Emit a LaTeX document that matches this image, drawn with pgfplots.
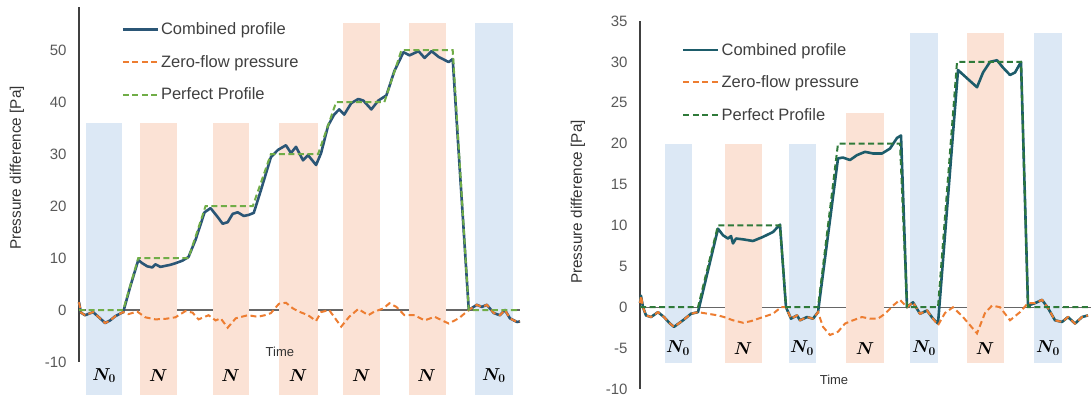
\documentclass[border=0pt]{standalone}
\usepackage{pgfplots}
\pgfplotsset{compat=1.18}
\usepackage{pgfplotstable}
\usepackage{amsmath}
\usepackage{fontspec}
\setmainfont{Liberation Sans}
\definecolor{cblue}{HTML}{2B5676}
\definecolor{cteal}{HTML}{1D5C6A}
\definecolor{corange}{HTML}{ED7D31}
\definecolor{cgreenL}{HTML}{70AD47}
\definecolor{cgreenD}{HTML}{2F7A3A}
\definecolor{bblue}{HTML}{DCE8F5}
\definecolor{borange}{HTML}{FBE2D5}
\definecolor{ticktext}{HTML}{595959}
\definecolor{legtext}{HTML}{404040}
\pgfplotsset{legend image code/.code={\draw[#1] (0pt,0pt) -- (35pt,0pt);}}

\pgfplotstableread{
t y
79 1.5
81 -0.5
85 -1.0
93 -0.4
100 -1.6
105 -2.5
110 -2.0
115 -1.2
123 -0.4
130 4.5
138 9.6
142 9.0
147 8.4
152 8.2
155 8.8
160 8.3
165 8.5
170 8.7
175 9.0
182 9.5
188 10.2
195 13.5
204 18.8
210 19.6
217 17.9
222 16.6
227 16.9
232 18.5
237 18.8
243 18.1
248 18.3
253 18.7
260 23.0
270 29.4
277 30.8
285 31.7
290 30.2
295 31.4
302 28.8
307 29.8
315 27.9
320 30.2
327 35.5
333 37.6
338 38.6
343 37.6
350 39.8
357 40.6
362 40.3
370 38.6
377 40.3
385 41.3
393 46.0
402 49.6
408 49.0
417 49.8
423 48.5
430 49.8
437 48.7
447 47.7
451 48.3
467 0
475 1.0
480 0.6
485 1.0
492 -0.6
498 -1.0
503 0
508 -1.6
515 -2.3
518 -2.2
}\tabLcomb
\pgfplotstableread{
t y
79 1.5
81 -0.5
85 -1.0
93 -0.4
100 -1.6
105 -2.5
110 -2.0
115 -1.2
123 -0.4
128 -0.8
137 -0.3
145 -1.4
155 -1.8
165 -1.7
175 -1.4
185 -0.2
192 -0.5
198 -1.8
208 -1.0
215 -2.0
220 -1.6
227 -3.4
235 -1.6
247 -1.0
257 -1.3
264 -1.0
270 -0.6
278 1.2
285 1.4
292 0.3
298 -0.3
307 -1.0
315 -2.1
320 -0.4
328 0
340 -3.2
348 -1.3
357 0.2
367 -1.0
373 -0.3
382 0.3
388 1.3
395 0.6
403 -1.0
413 -1.0
423 -2.0
433 -1.3
447 -2.6
457 -1.6
467 0
475 1.0
480 0.6
485 1.0
492 -0.6
498 -1.0
503 0
508 -1.6
515 -2.3
518 -2.2
}\tabLzero
\pgfplotstableread{
t y
79 0
123 0
138 10
188 10
205 20
252 20
270 30
317 30
335 40
383 40
400 50
451 50
467 0
518 0
}\tabLperf

\pgfplotstableread{
t y
640 0.5
641 1.4
643 0.0
646 -1.0
651 -1.2
658 -0.6
664 -1.2
670 -2.0
674 -2.4
683 -1.6
691 -0.8
698 -0.6
708 4.5
718 9.6
723 8.8
728 8.4
731 8.7
733 7.8
736 8.4
743 8.3
753 8.1
763 8.6
773 9.2
780 10.1
786 0
791 -1.4
797 -1.0
800 -1.6
807 -1.2
813 -1.4
818 -0.6
838 18.2
843 18.3
850 18.0
857 18.6
865 19.0
873 18.8
882 18.8
890 19.4
897 20.7
901 21.0
907 0
913 0.6
920 -0.8
927 -0.4
933 -1.4
938 -2.0
958 29.0
967 28.0
977 26.9
983 28.7
990 30.0
997 30.2
1003 29.3
1010 28.4
1015 28.7
1021 30.0
1028 0.2
1035 0.5
1042 0.9
1048 -0.1
1055 -1.6
1062 -1.8
1068 -1.2
1075 -2.0
1082 -1.2
1088 -1.0
}\tabRcomb
\pgfplotstableread{
t y
640 0.5
641 1.4
643 0.0
646 -1.0
651 -1.2
658 -0.6
664 -1.2
670 -2.0
674 -2.4
683 -1.6
691 -0.8
698 -0.6
708 -0.8
718 -1.0
724 -1.2
733 -1.6
743 -1.9
751 -1.7
763 -1.2
773 -0.8
781 0
786 0
791 -1.4
797 -1.0
800 -1.6
807 -1.2
813 -1.4
818 -0.6
823 -2.4
830 -3.4
838 -3.0
845 -2.0
853 -1.6
862 -1.2
870 -1.4
878 -1.4
885 -0.8
893 0.2
900 0.9
907 0
913 0.6
920 -0.8
927 -0.4
933 -1.4
938 -2.2
945 -0.7
953 0
963 -1.2
977 -3.2
985 -0.7
992 0.2
1000 0
1010 -1.6
1020 -0.6
1028 0.5
1035 0.5
1042 0.9
1048 -0.1
1055 -1.6
1062 -1.8
1068 -1.2
1075 -2.0
1082 -1.2
1088 -1.0
}\tabRzero
\pgfplotstableread{
t y
640 0
698 0
718 10
780 10
786 0
818 0
838 20
900 20
907 0
938 0
957 30
1021 30
1028 0
1091 0
}\tabRperf

\begin{document}
\begin{tikzpicture}
\path[use as bounding box] (0pt,0pt) rectangle (1091pt,401pt);
\begin{axis}[
  scale only axis, clip=false,
  axis x line*=middle, axis y line*=left,
  x axis line style={color=black!60, line width=1.1pt},
  y axis line style={color=black!75, line width=1.4pt},
  xtick=\empty, major tick length=0pt,
  /pgf/number format/assume math mode=true,
  yticklabel style={font=\fontsize{15}{18}\selectfont, color=ticktext, anchor=east, xshift=-9pt},
  legend cell align=left,
  legend style={draw=none, fill=none, font=\fontsize{16.5}{19}\selectfont, text=legtext,
                anchor=north west, row sep=15pt,
                at={(rel axis cs:0.089,0.967)}},
  at={(79pt,39pt)}, anchor=south west,
  width=441pt, height=355pt,
  xmin=79, xmax=518, ymin=-10, ymax=58.3,
  ytick={-10,0,10,20,30,40,50},
]
\addplot[draw=none, fill=bblue, forget plot]   coordinates {(86,-16.3) (122,-16.3) (122,36) (86,36)};
\addplot[draw=none, fill=borange, forget plot] coordinates {(140,-16.3) (177,-16.3) (177,36) (140,36)};
\addplot[draw=none, fill=borange, forget plot] coordinates {(212,-16.3) (248,-16.3) (248,36) (212,36)};
\addplot[draw=none, fill=borange, forget plot] coordinates {(278,-16.3) (317,-16.3) (317,36) (278,36)};
\addplot[draw=none, fill=borange, forget plot] coordinates {(342,-16.3) (379,-16.3) (379,55.2) (342,55.2)};
\addplot[draw=none, fill=borange, forget plot] coordinates {(407,-16.3) (444,-16.3) (444,55.2) (407,55.2)};
\addplot[draw=none, fill=bblue, forget plot]   coordinates {(473,-16.3) (511,-16.3) (511,55.2) (473,55.2)};
\addplot[line width=2.6pt, line join=round, color=cblue] table[x=t,y=y] {\tabLcomb};
\addlegendentry{Combined profile}
\addplot[line width=2pt, dash pattern=on 6pt off 3.5pt, color=corange] table[x=t,y=y] {\tabLzero};
\addlegendentry{Zero-flow pressure}
\addplot[line width=2pt, dash pattern=on 6pt off 3.5pt, color=cgreenL] table[x=t,y=y] {\tabLperf};
\addlegendentry{Perfect Profile}
\node[font=\fontsize{13}{15}\selectfont, text=black!80] at (axis cs:279,-8.1) {Time};
\node[font=\fontsize{18}{20}\selectfont] at (axis cs:104,-12.6) {$\boldsymbol{N_0}$};
\node[font=\fontsize{18}{20}\selectfont] at (axis cs:158,-12.6) {$\boldsymbol{N}$};
\node[font=\fontsize{18}{20}\selectfont] at (axis cs:230,-12.6) {$\boldsymbol{N}$};
\node[font=\fontsize{18}{20}\selectfont] at (axis cs:297,-12.6) {$\boldsymbol{N}$};
\node[font=\fontsize{18}{20}\selectfont] at (axis cs:360,-12.6) {$\boldsymbol{N}$};
\node[font=\fontsize{18}{20}\selectfont] at (axis cs:425,-12.6) {$\boldsymbol{N}$};
\node[font=\fontsize{18}{20}\selectfont] at (axis cs:492,-12.6) {$\boldsymbol{N_0}$};
\end{axis}
\node[rotate=90, font=\fontsize{15.3}{18}\selectfont, text=black!80] at (17pt,233pt) {Pressure difference [Pa]};

\begin{axis}[
  scale only axis, clip=false,
  axis x line*=middle, axis y line*=left,
  x axis line style={color=black!60, line width=1.1pt},
  y axis line style={color=black!75, line width=1.4pt},
  xtick=\empty, major tick length=0pt,
  /pgf/number format/assume math mode=true,
  yticklabel style={font=\fontsize{15}{18}\selectfont, color=ticktext, anchor=east, xshift=-9pt},
  legend cell align=left,
  legend style={draw=none, fill=none, font=\fontsize{16.5}{19}\selectfont, text=legtext,
                anchor=north west, row sep=15pt,
                at={(rel axis cs:0.086,0.951)}},
  at={(640pt,12pt)}, anchor=south west,
  width=451pt, height=368pt,
  xmin=640, xmax=1091, ymin=-10, ymax=35,
  ytick={-10,-5,0,5,10,15,20,25,30,35},
]
\addplot[draw=none, fill=bblue, forget plot]   coordinates {(665,-6.8) (692,-6.8) (692,20) (665,20)};
\addplot[draw=none, fill=borange, forget plot] coordinates {(725,-6.8) (762,-6.8) (762,20) (725,20)};
\addplot[draw=none, fill=bblue, forget plot]   coordinates {(789,-6.8) (816,-6.8) (816,20) (789,20)};
\addplot[draw=none, fill=borange, forget plot] coordinates {(846,-6.8) (884,-6.8) (884,23.8) (846,23.8)};
\addplot[draw=none, fill=bblue, forget plot]   coordinates {(910,-6.8) (938,-6.8) (938,33.5) (910,33.5)};
\addplot[draw=none, fill=borange, forget plot] coordinates {(967,-6.8) (1004,-6.8) (1004,33.5) (967,33.5)};
\addplot[draw=none, fill=bblue, forget plot]   coordinates {(1034,-6.8) (1062,-6.8) (1062,33.5) (1034,33.5)};
\addplot[line width=2.6pt, line join=round, color=cteal] table[x=t,y=y] {\tabRcomb};
\addlegendentry{Combined profile}
\addplot[line width=2pt, dash pattern=on 6pt off 3.5pt, color=corange] table[x=t,y=y] {\tabRzero};
\addlegendentry{Zero-flow pressure}
\addplot[line width=2pt, dash pattern=on 6pt off 3.5pt, color=cgreenD] table[x=t,y=y] {\tabRperf};
\addlegendentry{Perfect Profile}
\node[font=\fontsize{13}{15}\selectfont, text=black!80] at (axis cs:834,-8.9) {Time};
\node[font=\fontsize{18}{20}\selectfont] at (axis cs:678,-5.0) {$\boldsymbol{N_0}$};
\node[font=\fontsize{18}{20}\selectfont] at (axis cs:743,-5.0) {$\boldsymbol{N}$};
\node[font=\fontsize{18}{20}\selectfont] at (axis cs:802,-5.0) {$\boldsymbol{N_0}$};
\node[font=\fontsize{18}{20}\selectfont] at (axis cs:865,-5.0) {$\boldsymbol{N}$};
\node[font=\fontsize{18}{20}\selectfont] at (axis cs:924,-5.0) {$\boldsymbol{N_0}$};
\node[font=\fontsize{18}{20}\selectfont] at (axis cs:985,-5.0) {$\boldsymbol{N}$};
\node[font=\fontsize{18}{20}\selectfont] at (axis cs:1048,-5.0) {$\boldsymbol{N_0}$};
\end{axis}
\node[rotate=90, font=\fontsize{15.3}{18}\selectfont, text=black!80] at (578pt,199pt) {Pressure difference [Pa]};
\end{tikzpicture}
\end{document}
